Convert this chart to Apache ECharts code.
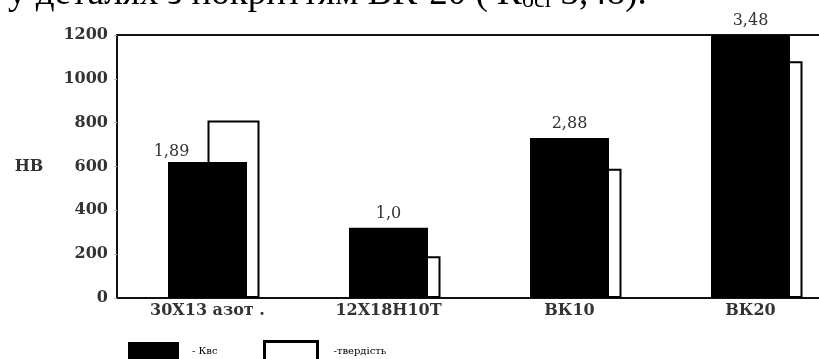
<!DOCTYPE html>
<html>
<head>
<meta charset="utf-8">
<script src="https://cdn.jsdelivr.net/npm/echarts@6/dist/echarts.min.js"></script>
<style>
  html, body { margin: 0; padding: 0; background: #fff; }
  #chart { width: 819px; height: 359px; }
</style>
</head>
<body>
<div id="chart"></div>
<script>
// категорії (марки матеріалів)
var categories = ['30Х13 азот .', '12Х18Н10Т', 'ВК10', 'ВК20'];
// Квс - чорні стовпчики (значення по осі HB)
var kvsBars = [620, 320, 730, 1200];
// підписи над чорними стовпчиками
var kvsLabels = ['1,89', '1,0', '2,88', '3,48'];
// твердість - білі стовпчики
var hardness = [810, 190, 590, 1080];
// поділки осі Y
var yTicks = [0, 200, 400, 600, 800, 1000, 1200];

var serif = '"DejaVu Serif", "Liberation Serif", serif';

var myChart = echarts.init(document.getElementById('chart'));
var option = {
  animation: false,
  title: {
    text: 'у деталях з покриттям ВК-20 ( К{s|бсі} 3,48).',
    left: 8,
    top: -25,
    padding: 0,
    textStyle: {
      fontFamily: '"Liberation Serif", serif',
      fontSize: 37,
      fontWeight: 'normal',
      color: '#000',
      rich: {
        s: { fontFamily: '"Liberation Serif", serif', fontSize: 24, padding: [14, 0, 0, 0], color: '#000' }
      }
    }
  },
  grid: {
    left: 117,
    width: 724,
    top: 35,
    bottom: 61,
    outerBoundsMode: 'none',
    show: true,
    borderColor: '#111',
    borderWidth: 2
  },
  legend: [
    {
      left: 128,
      top: 342,
      padding: 0,
      icon: 'rect',
      itemWidth: 51,
      itemHeight: 18,
      selectedMode: false,
      data: ['- Квс'],
      textStyle: { fontFamily: serif, fontSize: 10, color: '#000', padding: [8, 0, 0, 8] }
    },
    {
      left: 263,
      top: 340,
      padding: 0,
      icon: 'rect',
      itemWidth: 53,
      itemHeight: 19,
      selectedMode: false,
      data: [{ name: '-твердість', itemStyle: { borderWidth: 3, borderColor: '#000', color: '#fff' } }],
      textStyle: { fontFamily: serif, fontSize: 10, color: '#000', padding: [0, 0, 0, 11] }
    }
  ],
  xAxis: [
    {
      type: 'category',
      data: categories,
      axisTick: { show: false },
      axisLine: { lineStyle: { color: '#111', width: 2 } },
      axisLabel: {
        fontFamily: serif,
        fontWeight: 'bold',
        fontSize: 16,
        color: '#333',
        margin: 5
      }
    },
    {
      // допоміжна вісь для зсуву білих стовпчиків вправо
      type: 'category',
      data: categories,
      show: false
    }
  ],
  yAxis: {
    type: 'value',
    min: yTicks[0],
    max: yTicks[yTicks.length - 1],
    interval: 200,
    name: 'HB',
    nameLocation: 'middle',
    nameRotate: 0,
    nameGap: 88,
    nameTextStyle: {
      fontFamily: serif,
      fontWeight: 'bold',
      fontSize: 16,
      color: '#333',
      align: 'center',
      verticalAlign: 'middle'
    },
    axisLine: { show: true, lineStyle: { color: '#111', width: 2 } },
    axisTick: { show: true, length: 3, lineStyle: { color: '#bbb' } },
    splitLine: { show: false },
    axisLabel: {
      fontFamily: serif,
      fontWeight: 'bold',
      fontSize: 16,
      color: '#333',
      margin: 9,
      formatter: function (v) {
        return String(v);
      }
    }
  },
  series: [
    {
      // порожня серія-заповнювач, щоб білий стовпчик починався від центру категорії
      type: 'bar',
      xAxisIndex: 1,
      barWidth: 52,
      barGap: 0,
      data: [],
      silent: true
    },
    {
      name: '-твердість',
      type: 'bar',
      xAxisIndex: 1,
      barWidth: 52,
      barGap: 0,
      itemStyle: { color: '#fff', borderColor: '#000', borderWidth: 2 },
      data: hardness
    },
    {
      name: '- Квс',
      type: 'bar',
      xAxisIndex: 0,
      barWidth: 79,
      itemStyle: { color: '#000' },
      label: {
        show: true,
        position: 'top',
        distance: 6,
        fontFamily: serif,
        fontSize: 16,
        color: '#333',
        formatter: function (params) {
          return kvsLabels[params.dataIndex];
        }
      },
      data: kvsBars.map(function (v, i) {
        // перший підпис зсунутий ліворуч, як на оригіналі
        return i === 0 ? { value: v, label: { offset: [-36, 4] } } : v;
      })
    }
  ]
};
myChart.setOption(option);
window.addEventListener('resize', function () {
  myChart.resize();
});
</script>
</body>
</html>
